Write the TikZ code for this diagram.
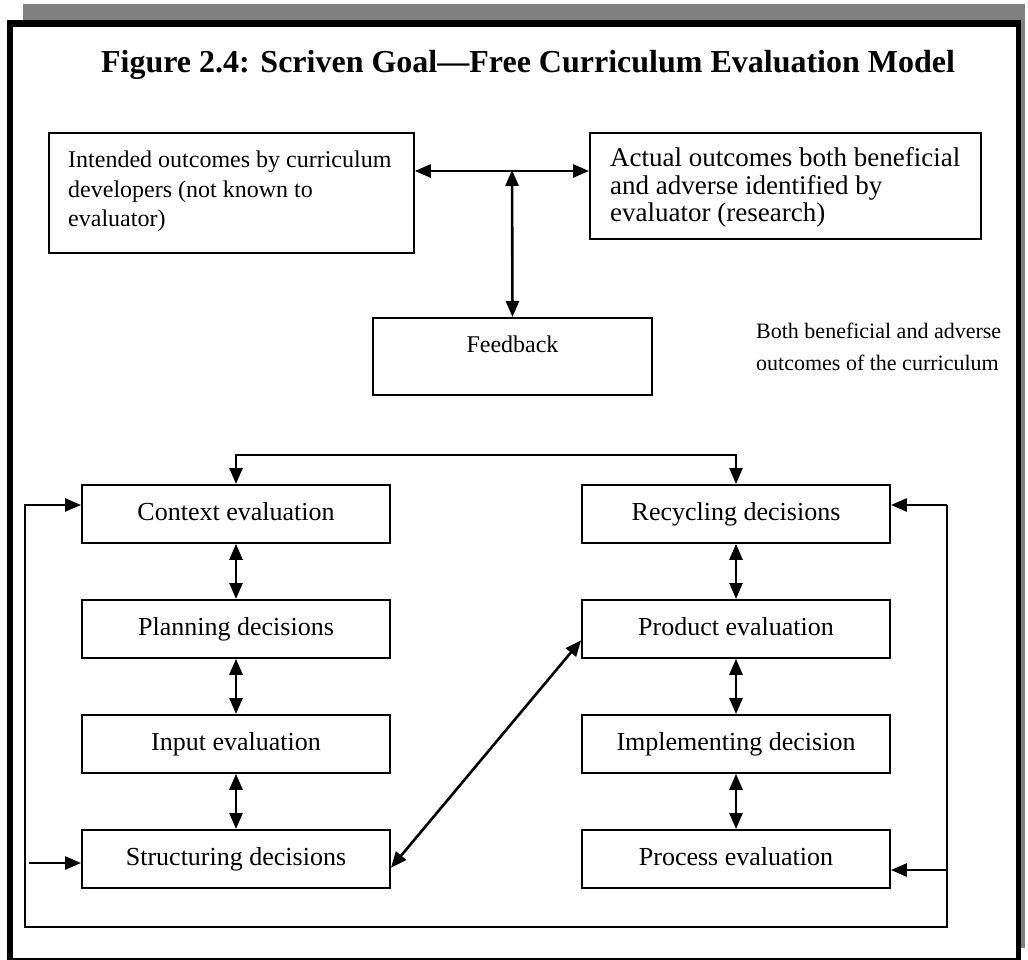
\documentclass[tikz,border=0pt]{standalone}
\usepackage{fontspec}
\setmainfont{Liberation Serif}
\usetikzlibrary{arrows.meta,calc}

\tikzset{
  box/.style={draw, line width=1.8pt, rectangle, inner sep=0pt},
  stagebox/.style={box, minimum width=308pt, minimum height=58pt, anchor=north,
    font=\fontsize{26}{30}\selectfont, text height=18pt, text depth=5pt},
  boxtext/.style={anchor=base west, align=left, inner sep=0pt},
  link/.style={line width=2.6pt},
  tip/.style={-{Triangle[length=16pt,width=13pt]}},
  twotip/.style={{Triangle[length=16pt,width=13pt]}-{Triangle[length=16pt,width=13pt]}}
}

\begin{document}
\begin{tikzpicture}[x=1pt,y=-1pt]
  \useasboundingbox (0,0) rectangle (1028,960);

  % shadow and heavy frame
  \fill[black!50] (23,4) rectangle (1025,948);
  \fill[black] (7,20) rectangle (1021,961);
  \fill[white] (13,27) rectangle (1016,957.5);

  % title
  \node[font=\fontsize{32}{36}\selectfont\bfseries, anchor=base] (title) at (528,73)
    {Figure 2.4: Scriven Goal---Free Curriculum Evaluation Model};

  % upper boxes
  \node[box, anchor=north west, minimum width=365pt, minimum height=120pt] (intended) at (48,132) {};
  \node[boxtext, font=\fontsize{24}{29.5}\selectfont] (intendedtext) at (68,227)
    {Intended outcomes by curriculum\\developers (not known to\\evaluator)};

  \node[box, anchor=north west, minimum width=391pt, minimum height=106pt] (actual) at (589,132) {};
  \node[boxtext, font=\fontsize{27}{27.5}\selectfont] (actualtext) at (610,222)
    {Actual outcomes both beneficial\\and adverse identified by\\evaluator (research)};

  \node[box, anchor=north, minimum width=279pt, inner ysep=8pt,
        font=\fontsize{24}{28}\selectfont,
        text height=27pt, text depth=34pt] (feedback) at (512.5,317) {Feedback};

  \node[boxtext, font=\fontsize{22}{28}\selectfont] (note) at (756,370)
    {Both beneficial and adverse\\[4pt]outcomes of the curriculum};

  % lower columns
  \node[stagebox] (context)     at (236,484) {Context evaluation};
  \node[stagebox] (planning)    at (236,599) {Planning decisions};
  \node[stagebox] (input)       at (236,714) {Input evaluation};
  \node[stagebox] (structuring) at (236,829) {Structuring decisions};

  \node[stagebox] (recycling)    at (736,484) {Recycling decisions};
  \node[stagebox] (product)      at (736,599) {Product evaluation};
  \node[stagebox] (implementing) at (736,714) {Implementing decision};
  \node[stagebox] (process)      at (736,829) {Process evaluation};

  % upper connectors
  \coordinate (hub) at (512,171);
  \draw[link, twotip] (intended.east |- hub) -- (actual.west |- hub);
  \draw[link, twotip] ([yshift=1pt]hub) -- (feedback.north);

  % split line feeding both columns
  \coordinate (tl) at (236,455);
  \coordinate (tr) at (736,455);
  \draw[link, twotip] (context.north) -- (tl) -- (tr) -- (recycling.north);

  % column links
  \draw[link, twotip] (context.south) -- (planning.north);
  \draw[link, twotip] (planning.south) -- (input.north);
  \draw[link, twotip] (input.south) -- (structuring.north);
  \draw[link, twotip] (recycling.south) -- (product.north);
  \draw[link, twotip] (product.south) -- (implementing.north);
  \draw[link, twotip] (implementing.south) -- (process.north);

  % diagonal link
  \draw[link, twotip]
    ($(structuring.east)!0.3!(structuring.south east)$) --
    ($(product.west)!0.38!(product.south west)$);

  % outer loop
  \coordinate (lt) at (25,505);
  \coordinate (lb) at (25,927);
  \coordinate (rb) at (947,927);
  \coordinate (rt) at (947,505);
  \coordinate (rp) at (947,870);
  \coordinate (sin) at (29,863);
  \draw[line width=2pt, tip] (rt) -- (rb) -- (lb) -- (lt) -- (context.west |- lt);
  \draw[link, tip] (rt) -- (recycling.east |- rt);
  \draw[link, tip] (rp) -- (process.east |- rp);
  \draw[link, tip] (sin) -- (structuring.west |- sin);
\end{tikzpicture}
\end{document}
